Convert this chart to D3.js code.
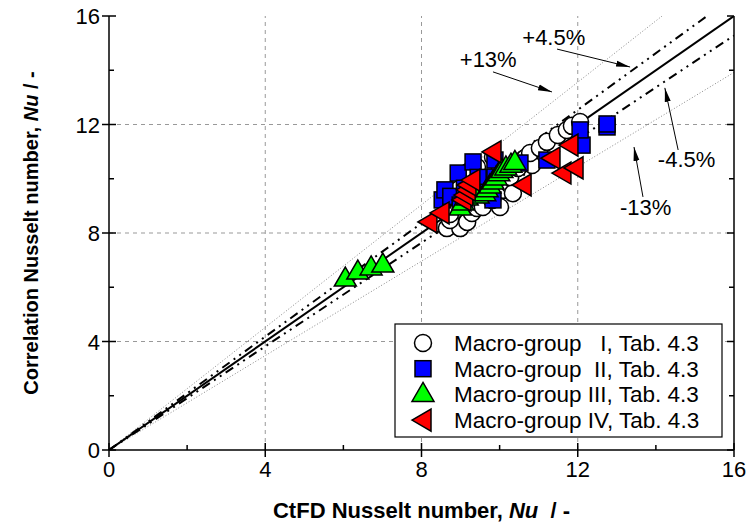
<!DOCTYPE html>
<html>
<head>
<meta charset="utf-8">
<script src="https://cdn.jsdelivr.net/npm/d3@7"></script>
<style>
  body { margin: 0; background: #fff; }
  text { font-family: "Liberation Sans", Arial, sans-serif; }
</style>
</head>
<body>
<svg id="chart" width="751" height="526"></svg>
<script>
// Macro-group data, [CtFD Nu, correlation Nu]
const groupI = [
  [8.65, 8.18], [8.99, 8.18], [8.73, 8.48], [8.73, 8.70], [9.17, 8.41], [9.29, 8.74],
  [9.11, 9.11], [9.42, 8.92], [9.57, 8.96], [10.01, 8.96], [9.81, 9.22], [9.70, 9.40],
  [10.09, 9.59], [10.27, 9.77], [10.34, 9.47], [10.27, 10.06], [10.47, 10.40], [10.45, 10.58],
  [10.65, 10.76], [10.83, 10.51], [10.78, 10.95], [11.03, 11.13], [11.21, 11.36], [11.49, 11.61],
  [11.72, 11.80], [11.85, 11.95], [12.06, 12.09], [9.42, 10.43], [9.19, 10.25], [9.83, 10.80],
  [10.0, 10.3], [9.9, 10.0], [9.6, 9.8], [8.95, 9.6], [8.85, 9.3]
];
const groupII = [
  [8.53, 9.22], [8.60, 9.59], [8.75, 9.35], [8.94, 10.21], [8.99, 9.03], [9.10, 9.65],
  [9.32, 10.62], [9.45, 10.05], [9.70, 9.50], [9.83, 9.22], [9.88, 10.06], [9.88, 10.69],
  [10.52, 10.58], [11.21, 10.69], [12.11, 11.24], [12.06, 11.80], [12.75, 11.91], [12.75, 12.02]
];
const groupIII = [
  [6.05, 6.30], [6.37, 6.56], [6.71, 6.71], [7.01, 6.82],
  [8.99, 8.92], [9.06, 9.11], [9.17, 9.29], [9.45, 9.36], [9.62, 9.45], [9.68, 9.59],
  [9.75, 9.73], [9.83, 9.88], [9.91, 10.03], [9.98, 10.18], [10.06, 10.30], [10.16, 10.40],
  [10.29, 10.50], [10.39, 10.60]
];
const groupIV = [
  [8.19, 8.41], [8.50, 8.74], [9.06, 9.22], [9.11, 9.40], [9.17, 9.59], [9.19, 9.77],
  [9.29, 9.95], [9.83, 10.99], [10.60, 9.77], [11.34, 10.76], [11.62, 10.21], [11.80, 11.24],
  [11.93, 10.40]
];

const seriesNames = ["Macro-group   I, Tab. 4.3", "Macro-group  II, Tab. 4.3",
                     "Macro-group III, Tab. 4.3", "Macro-group IV, Tab. 4.3"];
const xTicks = [0, 4, 8, 12, 16];
const yTicks = [0, 4, 8, 12, 16];
const minorTicks = [2, 6, 10, 14];
const deviations = [0.045, -0.045];      // dash-dot lines
const wideDeviations = [0.13, -0.13];    // dotted lines
const devLabels = ["+4.5%", "+13%", "-4.5%", "-13%"];

const svg = d3.select("#chart");
const margin = { left: 109, right: 17, top: 16, bottom: 76 };
const W = 751, H = 526;

const x = d3.scaleLinear().domain([0, 16]).range([margin.left, W - margin.right]);
const y = d3.scaleLinear().domain([0, 16]).range([H - margin.bottom, margin.top]);

svg.append("defs").append("clipPath").attr("id", "plotclip")
  .append("rect")
  .attr("x", x(0)).attr("y", y(16))
  .attr("width", x(16) - x(0)).attr("height", y(0) - y(16));

svg.append("defs").append("marker")
  .attr("id", "arrow")
  .attr("viewBox", "0 -5 14 10")
  .attr("refX", 14).attr("refY", 0)
  .attr("markerWidth", 14).attr("markerHeight", 10)
  .attr("markerUnits", "userSpaceOnUse")
  .attr("orient", "auto")
  .append("path").attr("d", "M0,-3L14,0L0,3Z").style("fill", "#000");

// grid
const grid = svg.append("g");
[4, 8, 12].forEach(v => {
  grid.append("line").attr("x1", x(v)).attr("x2", x(v)).attr("y1", y(0)).attr("y2", y(16))
    .attr("stroke", "#999").attr("stroke-dasharray", "4,4").attr("stroke-width", 1);
  grid.append("line").attr("x1", x(0)).attr("x2", x(16)).attr("y1", y(v)).attr("y2", y(v))
    .attr("stroke", "#999").attr("stroke-dasharray", "4,4").attr("stroke-width", 1);
});

// reference lines
const lines = svg.append("g").attr("clip-path", "url(#plotclip)");
const line = d3.line().x(d => x(d[0])).y(d => y(d[1]));
wideDeviations.forEach(d => {
  lines.append("path").attr("d", line([[0, 0], [16, 16 * (1 + d)]]))
    .attr("fill", "none").attr("stroke", "#888").attr("stroke-width", 1)
    .attr("stroke-dasharray", "1,2");
});
deviations.forEach(d => {
  lines.append("path").attr("d", line([[0, 0], [16, 16 * (1 + d)]]))
    .attr("fill", "none").attr("stroke", "#000").attr("stroke-width", 2)
    .attr("stroke-dasharray", "9,5,2,5,2,5");
});
lines.append("path").attr("d", line([[0, 0], [16, 16]]))
  .attr("fill", "none").attr("stroke", "#000").attr("stroke-width", 2);

// markers
const sym = {
  circle: g => g.append("circle").attr("r", 8.5).attr("fill", "#fff"),
  square: g => g.append("rect").attr("x", -8).attr("y", -8).attr("width", 16).attr("height", 16).attr("fill", "#0000ff"),
  up: g => g.append("path").attr("d", "M0,-12L11,7L-11,7Z").attr("fill", "#00ff00"),
  left: g => g.append("path").attr("d", "M-11,0L8,-11L8,11Z").attr("fill", "#ff0000")
};
const groups = [[groupI, "circle"], [groupII, "square"], [groupIII, "up"], [groupIV, "left"]];
const pts = svg.append("g");
groups.forEach(([data, s]) => {
  data.forEach(d => {
    const g = pts.append("g").attr("transform", `translate(${x(d[0])},${y(d[1])})`);
    sym[s](g).attr("stroke", "#000").attr("stroke-width", 1.5);
  });
});

// axes
const ax = svg.append("g").attr("stroke", "#000").attr("stroke-width", 1.5);
ax.append("line").attr("x1", x(0)).attr("x2", x(16)).attr("y1", y(0)).attr("y2", y(0));
ax.append("line").attr("x1", x(0)).attr("x2", x(0)).attr("y1", y(0)).attr("y2", y(16));
ax.append("line").attr("x1", x(16)).attr("x2", x(16)).attr("y1", y(0)).attr("y2", y(16));
xTicks.forEach(v => {
  ax.append("line").attr("x1", x(v)).attr("x2", x(v)).attr("y1", y(0) - 7).attr("y2", y(0) + 7);
  ax.append("line").attr("x1", x(0) - 7).attr("x2", x(0) + 7).attr("y1", y(v)).attr("y2", y(v));
  ax.append("line").attr("x1", x(16) - 7).attr("x2", x(16)).attr("y1", y(v)).attr("y2", y(v));
});
minorTicks.forEach(v => {
  ax.append("line").attr("x1", x(v)).attr("x2", x(v)).attr("y1", y(0) - 5).attr("y2", y(0));
  ax.append("line").attr("x1", x(0)).attr("x2", x(0) + 5).attr("y1", y(v)).attr("y2", y(v));
  ax.append("line").attr("x1", x(16) - 5).attr("x2", x(16)).attr("y1", y(v)).attr("y2", y(v));
});

svg.append("g").selectAll("text").data(xTicks).enter().append("text")
  .attr("x", d => x(d)).attr("y", y(0) + 27)
  .attr("text-anchor", "middle").style("font-size", "22px").text(d => d);
svg.append("g").selectAll("text").data(yTicks).enter().append("text")
  .attr("x", x(0) - 9).attr("y", d => y(d) + 8)
  .attr("text-anchor", "end").style("font-size", "22px").text(d => d);

// axis titles
const xt = svg.append("text").attr("x", (x(0) + x(16)) / 2).attr("y", 518)
  .attr("text-anchor", "middle").style("font-size", "22px").style("font-weight", "bold")
  .attr("xml:space", "preserve");
xt.append("tspan").text("CtFD Nusselt number, ");
xt.append("tspan").style("font-style", "italic").text("Nu");
xt.append("tspan").text("  / -");

const yt = svg.append("text")
  .attr("transform", `translate(38,${(y(0) + y(16)) / 2}) rotate(-90)`)
  .attr("text-anchor", "middle").style("font-size", "20px").style("font-weight", "bold")
  .attr("xml:space", "preserve");
yt.append("tspan").text("Correlation Nusselt number, ");
yt.append("tspan").style("font-style", "italic").text("Nu");
yt.append("tspan").text(" / -");

// deviation annotations (data coordinates)
const annos = [
  { t: devLabels[0], tx: 10.58, ty: 14.93, a: [[11.47, 14.78], [13.34, 14.12]] },
  { t: devLabels[1], tx: 8.98, ty: 14.12, a: [[9.83, 13.94], [11.34, 13.20]] },
  { t: devLabels[2], tx: 14.05, ty: 10.43, a: [[14.57, 11.06], [14.23, 13.35]] },
  { t: devLabels[3], tx: 13.08, ty: 8.66, a: [[13.67, 9.33], [13.44, 11.17]] }
];
annos.forEach(a => {
  svg.append("text").attr("x", x(a.tx)).attr("y", y(a.ty)).style("font-size", "22px").text(a.t);
  svg.append("path").attr("d", line(a.a)).attr("stroke", "#000").attr("stroke-width", 1)
    .attr("marker-end", "url(#arrow)");
});

// legend
const leg = svg.append("g");
leg.append("rect").attr("x", 395).attr("y", 324).attr("width", 327).attr("height", 113)
  .attr("fill", "#fff").attr("stroke", "#000").attr("stroke-width", 1.2);
groups.forEach(([data, s], i) => {
  const cy = 343 + i * 25.7;
  const g = leg.append("g").attr("transform", `translate(423,${cy})`);
  sym[s](g).attr("stroke", "#000").attr("stroke-width", 1.5);
  leg.append("text").attr("x", 454).attr("y", cy + 8).style("font-size", "22.5px")
    .attr("xml:space", "preserve").style("white-space", "pre").text(seriesNames[i]);
});
</script>
</body>
</html>
